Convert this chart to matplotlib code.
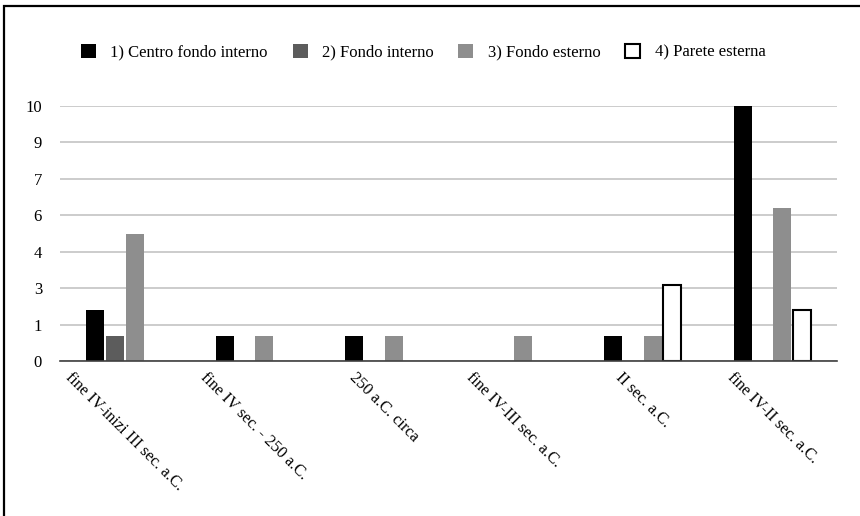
import numpy as np
import matplotlib
matplotlib.use('Agg')
import matplotlib.pyplot as plt
from matplotlib.patches import Patch, Rectangle

plt.rcParams['font.family'] = ['Liberation Serif', 'DejaVu Serif']

categories = ['fine IV-inizi III sec. a.C.', 'fine IV sec. - 250 a.C.', '250 a.C. circa',
              'fine IV-III sec. a.C.', 'II sec. a.C.', 'fine IV-II sec. a.C.']
series_names = ['1) Centro fondo interno', '2) Fondo interno', '3) Fondo esterno', '4) Parete esterna']
centro_fondo_interno = [2, 1, 1, 0, 1, 10]
fondo_interno = [1, 0, 0, 0, 0, 0]
fondo_esterno = [5, 1, 1, 1, 1, 6]
parete_esterna = [0, 0, 0, 0, 3, 2]

series = [centro_fondo_interno, fondo_interno, fondo_esterno, parete_esterna]
faces = ['#000000', '#5c5c5c', '#8e8e8e', '#ffffff']
edges = ['#000000', '#5c5c5c', '#8e8e8e', '#000000']

fig = plt.figure(figsize=(8.6, 5.16), dpi=100)
ax = fig.add_axes([60/860, 1-361/516, (837-60)/860, (361-106)/516])

x = np.arange(len(categories))
w = 0.14
step = 0.152
for i, vals in enumerate(series):
    lw = 1.5 if i == 3 else 0
    # empty bars get no outline so nothing shows on the baseline
    ec = [edges[i] if v > 0 else 'none' for v in vals]
    ax.bar(x + (i - 1.5)*step, vals, width=w, color=faces[i], edgecolor=ec,
           linewidth=lw, zorder=3)

ax.set_xlim(-0.5, len(categories) - 0.5)
ax.set_ylim(0, 10)
yt = np.linspace(0, 10, 8)
ax.set_yticks(yt)
ax.set_yticklabels(['%.0f' % v for v in yt], fontsize=12)
ax.yaxis.grid(True, color='#c4c4c4', linewidth=1.2, zorder=0)
ax.set_xticks(x)
ax.set_xticklabels(categories, rotation=-45, ha='center', va='top', fontsize=11.8)
ax.tick_params(length=0)
ax.tick_params(axis='y', pad=13)
ax.tick_params(axis='x', pad=6)
for s in ['top', 'right', 'left']:
    ax.spines[s].set_visible(False)
ax.spines['bottom'].set_color('#404040')
ax.spines['bottom'].set_linewidth(1.2)
ax.spines['bottom'].set_zorder(4)

handles = [Patch(facecolor=faces[i], edgecolor=edges[i] if i != 3 else '#000000',
                 linewidth=1.5 if i == 3 else 0) for i in range(4)]
fig.legend(handles, series_names, loc='center', bbox_to_anchor=(0.492, 1-52/516), ncol=4,
           frameon=False, fontsize=12, handlelength=0.9, handleheight=0.9,
           handletextpad=0.85, columnspacing=1.5)

fig.patches.append(Rectangle((4/860, -0.1), 1.2, 1 - 6/516 + 0.1, transform=fig.transFigure,
                             fill=False, edgecolor='black', linewidth=1.6))

fig.savefig('out.png', dpi=100)
